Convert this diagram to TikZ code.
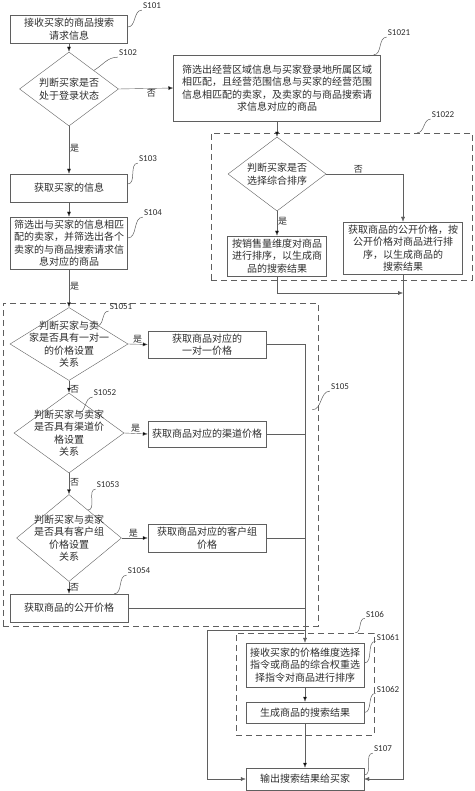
\documentclass[tikz,border=0pt]{standalone}
\usepackage{fontspec}
\setmainfont{Noto Sans CJK SC}
\newfontfamily\lblfont{Carlito}
\usepackage{tikz}
\usetikzlibrary{calc}
\usetikzlibrary{positioning}
\usetikzlibrary{shapes.geometric}
\usetikzlibrary{arrows.meta}
\definecolor{linegray}{RGB}{95,95,95}
\definecolor{textgray}{RGB}{45,45,45}
\tikzset{stepbox/.style={shape=rectangle, draw=linegray, align=center, inner sep=1pt, text=textgray, font=\fontsize{10}{12.5}\selectfont},
  decide/.style={shape=diamond, draw=linegray, inner sep=0pt},
  dtext/.style={align=center, inner sep=0pt, text=textgray, font=\fontsize{10}{12.5}\selectfont},
  frame/.style={shape=rectangle, draw=linegray, dash pattern=on 6pt off 4pt},
  tag/.style={inner sep=1pt, text=textgray, font=\fontsize{9}{10}\selectfont},
  lbl/.style={inner sep=1pt, text=textgray, font=\lblfont\fontsize{9}{10}\selectfont},
  lead/.style={draw=linegray, line width=0.5pt},
  arr/.style={draw=linegray, -{Latex[length=5pt,width=4pt]}},
  flow/.style={draw=linegray, every edge/.append style={-{Latex[length=5pt,width=4pt]}}}}

\begin{document}
\begin{tikzpicture}[x=1pt, y=-1pt]
  \useasboundingbox (0,0) rectangle (474,791);

  \node[frame, minimum width=261pt, minimum height=147pt] (f1022) at (341.5,206.5) {};
  \node[frame, minimum width=315pt, minimum height=323pt] (f105) at (160.5,464.5) {};
  \node[frame, minimum width=138pt, minimum height=102pt] (f106) at (305,684) {};

  \node[stepbox, minimum width=117pt, minimum height=28pt] (s101) at (69,29) {接收买家的商品搜索\\请求信息};
  \node[decide, minimum width=99pt, minimum height=74pt] (s102) at (69,89) {};
  \node[dtext] (t102) at (s102) {判断买家是否\\处于登录状态};
  \node[stepbox, minimum width=207pt, minimum height=66pt] (s1021) at (277,88) {筛选出经营区域信息与买家登录地所属区域\\相匹配，且经营范围信息与买家的经营范围\\信息相匹配的卖家，及卖家的与商品搜索请\\求信息对应的商品};
  \node[decide, minimum width=98pt, minimum height=74pt] (d1022) at (277,174) {};
  \node[dtext] (t1022) at (d1022) {判断买家是否\\选择综合排序};
  \node[stepbox, minimum width=99pt, minimum height=40pt] (r1022) at (277,256) {按销售量维度对商品\\进行排序，以生成商\\品的搜索结果};
  \node[stepbox, minimum width=119pt, minimum height=52pt] (q1022) at (403,248) {获取商品的公开价格，按\\公开价格对商品进行排\\序，以生成商品的\\搜索结果};
  \coordinate (m1022) at (403,293);

  \node[stepbox, minimum width=117pt, minimum height=28pt] (s103) at (69,188) {获取买家的信息};
  \node[stepbox, minimum width=117pt, minimum height=52pt] (s104) at (69,243) {筛选出与买家的信息相匹\\配的卖家，并筛选出各个\\卖家的与商品搜索请求信\\息对应的商品};

  \node[decide, minimum width=118pt, minimum height=73pt] (s1051) at (69,344) {};
  \node[dtext] (t1051) at (s1051) {判断买家与卖\\家是否具有一对一\\的价格设置\\关系};
  \node[stepbox, minimum width=118pt, minimum height=27pt] (p1051) at (207,344.5) {获取商品对应的\\一对一价格};
  \node[decide, minimum width=110pt, minimum height=80pt] (s1052) at (69,433) {};
  \node[dtext] (t1052) at (s1052) {判断买家与卖家\\是否具有渠道价\\格设置\\关系};
  \node[stepbox, minimum width=118pt, minimum height=26pt] (p1052) at (207,434) {获取商品对应的渠道价格};
  \node[decide, minimum width=105pt, minimum height=87pt] (s1053) at (69,538) {};
  \node[dtext] (t1053) at (s1053) {判断买家与卖家\\是否具有客户组\\价格设置\\关系};
  \node[stepbox, minimum width=118pt, minimum height=28pt] (p1053) at (207,538) {获取商品对应的客户组\\价格};
  \node[stepbox, minimum width=118pt, minimum height=28pt] (s1054) at (69,608) {获取商品的公开价格};

  \node[stepbox, minimum width=118pt, minimum height=44pt] (s1061) at (305,665) {接收买家的价格维度选择\\指令或商品的综合权重选\\择指令对商品进行排序};
  \node[stepbox, minimum width=118pt, minimum height=21pt] (s1062) at (305,712.5) {生成商品的搜索结果};
  \node[stepbox, minimum width=118pt, minimum height=22pt] (s107) at (305,779) {输出搜索结果给买家};
  \coordinate (j106) at (305,630);
  \coordinate (k106) at (207,630);

  \node[lbl] (l101) at (152,6) {S101};
  \node[lbl] (l102) at (128,53) {S102};
  \node[lbl] (l1021) at (399,33) {S1021};
  \node[lbl] (l1022) at (443,115) {S1022};
  \node[lbl] (l103) at (148,159) {S103};
  \node[lbl] (l104) at (153,213) {S104};
  \node[lbl] (l1051) at (121,307) {S1051};
  \node[lbl] (l1052) at (105,393) {S1052};
  \node[lbl] (l1053) at (108,485) {S1053};
  \node[lbl] (l1054) at (139,571) {S1054};
  \node[lbl] (l105) at (340,387) {S105};
  \node[lbl] (l106) at (375,614) {S106};
  \node[lbl] (l1061) at (388,637) {S1061};
  \node[lbl] (l1062) at (388,689) {S1062};
  \node[lbl] (l107) at (383,749) {S107};

  \draw[lead] ($(s101.east)+(0,-2)$) to[out=0,in=180] (l101.south west);
  \draw[lead] (s102.north east) to[out=30,in=180] (l102.south west);
  \draw[lead] ($(s1021.north east)+(-7,0)$) to[out=0,in=180] (l1021.south west);
  \draw[lead] ($(f1022.north east)+(-55,0)$) to[out=0,in=180] (l1022.south west);
  \draw[lead] ($(s103.east)+(0,-4)$) to[out=0,in=180] (l103.south west);
  \draw[lead] ($(s104.east)+(0,-5)$) to[out=0,in=180] (l104.south west);
  \draw[lead] (s1051.north east) to[out=30,in=180] (l1051.south west);
  \draw[lead] ($(s1052)+(9,-20)$) to[out=0,in=180] (l1052.south west);
  \draw[lead] ($(s1053)+(19,-28)$) to[out=0,in=180] (l1053.south west);
  \draw[lead] ($(s1054.north east)+(-14,0)$) to[out=0,in=180] (l1054.south west);
  \draw[lead] ($(f105.north east)+(-6,107)$) to[out=0,in=180] (l105.south west);
  \draw[lead] ($(f106.north east)+(-19,0)$) to[out=0,in=180] (l106.south west);
  \draw[lead] ($(s1061.east)+(0,-2)$) to[out=0,in=180] (l1061.south west);
  \draw[lead] (s1062.east) to[out=0,in=180] (l1062.south west);
  \draw[lead] ($(s107.east)+(0,-4)$) to[out=0,in=180] (l107.south west);

  \draw[flow]
  (s101.south) edge (s102.north)
  (s102.east) edge node[tag, below=0pt, pos=.6] {否} (s1021.west)
  (s102.south) edge node[tag, right, pos=.46] {是} (s103.north)
  (s103.south) edge (s104.north)
  (s104.south) edge node[tag, right, pos=.46] {是} (s1051.north)
  (s1021.south) edge (d1022.north)
  (d1022.south) edge node[tag, right, pos=.4] {是} (r1022.north);

  \draw[flow]
  (s1051.east) edge node[tag, above, pos=.48] {是} (p1051.west)
  (s1051.south) edge node[tag, right, pos=.75] {否} (s1052.north)
  (s1052.east) edge node[tag, above, pos=.48] {是} (p1052.west)
  (s1052.south) edge node[tag, right, pos=.45] {否} (s1053.north)
  (s1053.east) edge node[tag, above, pos=.45] {是} (p1053.west)
  (s1053.south) edge node[tag, right, pos=.45] {否} (s1054.north)
  (s1061.south) edge (s1062.north)
  (s1062.south) edge (s107.north);

  \draw[arr] (d1022.east) -| node[tag, above, pos=.21] {否} (q1022.north);
  \draw[arr] (r1022.south) |- (m1022);
  \draw[arr] (q1022.south) |- (s107.east);
  \draw[arr] (p1051.east) -| (s1061.north);
  \draw[draw=linegray] (p1052.east) -- (p1052.east -| s1061.north);
  \draw[draw=linegray] (p1053.east) -- (p1053.east -| s1061.north);
  \draw[draw=linegray] (s1054.east) -- (s1054.east -| s1061.north);
  \draw[arr] (j106) -- (k106) |- (s107.west);
\end{tikzpicture}
\end{document}
